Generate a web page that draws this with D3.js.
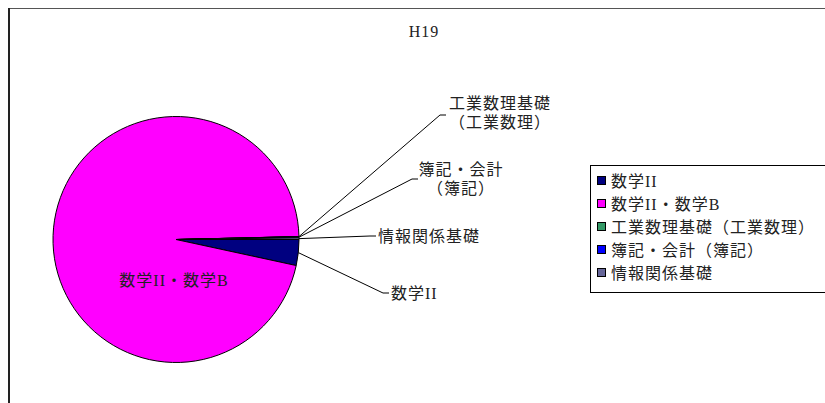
<!DOCTYPE html>
<html>
<head>
<meta charset="utf-8">
<script src="https://cdn.jsdelivr.net/npm/d3@7"></script>
<style>
  body { margin: 0; background: #fff; }
  text { font-family: "Liberation Serif", "Noto Sans CJK JP", serif; fill: #222; font-size: 16px; letter-spacing: 1px; }
</style>
</head>
<body>
<div id="chart"></div>
<script>
// Width and height of the page
var width = 825;
var height = 403;

// chart data
var categories = ["数学II", "数学II・数学B", "工業数理基礎（工業数理）", "簿記・会計（簿記）", "情報関係基礎"];
var values = [12000, 340000, 40, 500, 800];
var colors = ["#000080", "#ff00ff", "#339966", "#0000ff", "#666699"];
var chartTitle = "H19";

// outside labels: text lines, leader elbow, text centre x
var outsideLabels = [
    { idx: 0, lines: ["数学II"], elbow: [383, 293], anchor: "start" },
    { idx: 2, lines: ["工業数理基礎", "（工業数理）"], elbow: [440, 115], anchor: "middle", tx: 500, ty: 109 },
    { idx: 3, lines: ["簿記・会計", "（簿記）"], elbow: [412, 179], anchor: "middle", tx: 461, ty: 175 },
    { idx: 4, lines: ["情報関係基礎"], elbow: [370, 236], anchor: "start" }
];

var svg = d3.select("#chart")
    .append("svg")
    .attr("width", width)
    .attr("height", height);

// chart area frame (runs off the right and bottom edges)
svg.append("line")
    .attr("x1", 8).attr("y1", 8.5).attr("x2", width).attr("y2", 8.5)
    .style("stroke", "#555").style("stroke-width", 1);
svg.append("line")
    .attr("x1", 9).attr("y1", 8).attr("x2", 9).attr("y2", height)
    .style("stroke", "#222").style("stroke-width", 2);

svg.append("text")
    .attr("x", 424)
    .attr("y", 37)
    .attr("text-anchor", "middle")
    .text(chartTitle);

// pie
var cx = 176, cy = 239.5, radius = 123;

var pie = d3.pie()
    .sort(null)
    .startAngle(Math.PI / 2)
    .endAngle(Math.PI / 2 + 2 * Math.PI);

var arc = d3.arc().innerRadius(0).outerRadius(radius);

var arcs = pie(values);

var g = svg.append("g")
    .attr("transform", "translate(" + cx + "," + cy + ")");

g.selectAll("path")
    .data(arcs)
    .enter()
    .append("path")
    .attr("d", arc)
    .style("fill", function(d, i) { return colors[i]; })
    .style("stroke", "#000")
    .style("stroke-width", 1);

// label inside the big slice
g.append("text")
    .attr("x", -2)
    .attr("y", 46)
    .attr("text-anchor", "middle")
    .text(categories[1]);

// leader lines + outside labels
outsideLabels.forEach(function(lb) {
    var a = arcs[lb.idx];
    var mid = (a.startAngle + a.endAngle) / 2;
    var sx = cx + Math.sin(mid) * radius;
    var sy = cy - Math.cos(mid) * radius;
    var ex = lb.elbow[0], ey = lb.elbow[1];

    svg.append("polyline")
        .attr("points", [[sx, sy], [ex, ey], [ex + 6, ey]].map(function(p) { return p.join(","); }).join(" "))
        .style("fill", "none")
        .style("stroke", "#000")
        .style("stroke-width", 1);

    var t = svg.append("text")
        .attr("text-anchor", lb.anchor);
    if (lb.anchor === "start") {
        t.attr("x", ex + 8).attr("y", ey + 6).text(lb.lines[0]);
    } else {
        lb.lines.forEach(function(s, k) {
            t.append("tspan")
                .attr("x", lb.tx)
                .attr("y", lb.ty + k * 19)
                .text(s);
        });
    }
});

// legend
var legend = svg.append("g");
legend.append("rect")
    .attr("x", 590.5).attr("y", 165.5)
    .attr("width", 250).attr("height", 127)
    .style("fill", "#fff")
    .style("stroke", "#000");

var item = legend.selectAll(".item")
    .data(categories)
    .enter()
    .append("g")
    .attr("class", "item")
    .attr("transform", function(d, i) { return "translate(597," + (181 + i * 23) + ")"; });

item.append("rect")
    .attr("x", 0.5).attr("y", -4.5)
    .attr("width", 8).attr("height", 8)
    .style("fill", function(d, i) { return colors[i]; })
    .style("stroke", "#000");

item.append("text")
    .attr("x", 14)
    .attr("y", 5.5)
    .text(function(d) { return d; });
</script>
</body>
</html>
